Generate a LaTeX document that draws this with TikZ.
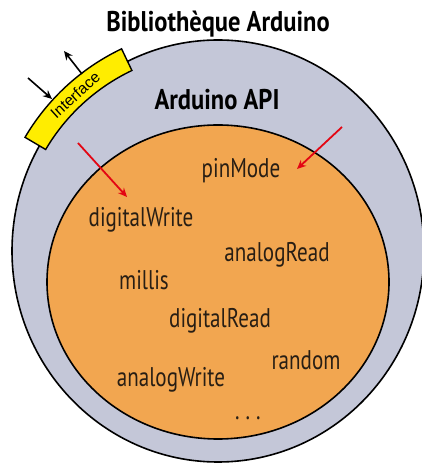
\documentclass[tikz,border=0pt]{standalone}
\usepackage{fontspec}
\setmainfont{PT Sans}
\newfontfamily\ifacefont{Liberation Sans}
\newfontfamily\condfont{PT Sans}[FakeStretch=0.78]
\newfontfamily\titlefont{PT Sans Bold}[FakeStretch=0.86]
\usetikzlibrary{arrows.meta}
\definecolor{outerfill}{RGB}{196,199,216}
\definecolor{innerfill}{RGB}{242,166,80}
\definecolor{bandfill}{RGB}{255,237,0}
\definecolor{redarrow}{RGB}{227,6,19}
\definecolor{labeltext}{RGB}{40,30,20}
\tikzset{
  ring/.style={draw=black, line width=1.6pt},
  title/.style={font=\titlefont\fontsize{28.5}{30}\selectfont, anchor=base, inner sep=0pt},
  func/.style={font=\condfont\fontsize{27}{30}\selectfont, text=labeltext, anchor=base, inner sep=0pt},
  redarr/.style={draw=redarrow, line width=1.8pt, -{Stealth[length=9pt,width=8pt]}},
  blackarr/.style={draw=black, line width=1.6pt, -{Stealth[length=9pt,width=8pt]}},
  band/.style={draw=black, line width=1.4pt, fill=bandfill, line join=miter},
}
\begin{document}
\begin{tikzpicture}[x=1pt,y=1pt]
\useasboundingbox (0,0) rectangle (422,463);
% outer and inner rings
\fill[outerfill] (218,212) ellipse[x radius=206, y radius=211];
\draw[ring] (218,212) ellipse[x radius=206, y radius=211];
\fill[innerfill] (218,181) ellipse[x radius=171, y radius=157];
\draw[ring] (218,181) ellipse[x radius=171, y radius=157];
% interface band
\begin{scope}[shift={(218,212)}]
  \draw[band] (149.5:224) arc[start angle=149.5, end angle=115.5, radius=224]
     -- (115.5:200) arc[start angle=115.5, end angle=149.5, radius=200] -- cycle;
  \node[font=\ifacefont\fontsize{15.5}{17}\selectfont, rotate=42, inner sep=0pt] (iface) at (132.5:211.5) {Interface};
\end{scope}
% black arrows
\coordinate (inT) at (28,385);
\coordinate (inH) at (52,364);
\coordinate (outT) at (82,389);
\coordinate (outH) at (64,412);
\draw[blackarr] (inT) -- (inH);
\draw[blackarr] (outT) -- (outH);
% red arrows
\coordinate (rlT) at (78,320);
\coordinate (rlH) at (127,266);
\coordinate (rrT) at (342,336);
\coordinate (rrH) at (297,294);
\draw[redarr] (rlT) -- (rlH);
\draw[redarr] (rrT) -- (rrH);
% titles
\node[title] (lib) at (218,431) {Bibliothèque Arduino};
\node[title] (api) at (217,353) {Arduino API};
% functions
\node[func] (pinmode) at (241,285) {pinMode};
\node[func] (dwrite) at (141,236) {digitalWrite};
\node[func] (aread) at (277,201) {analogRead};
\node[func] (millis) at (144,173) {millis};
\node[func] (dread) at (220,135) {digitalRead};
\node[func] (random) at (306,93) {random};
\node[func] (awrite) at (171,76) {analogWrite};
\node[func] (dots) at (248,43) {.\hspace{6pt}.\hspace{6pt}.};
\end{tikzpicture}
\end{document}
